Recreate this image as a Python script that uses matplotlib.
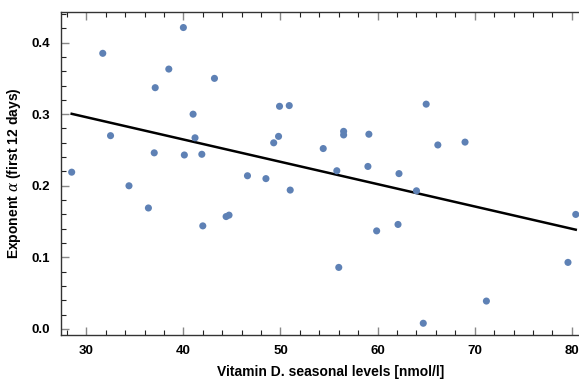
import numpy as np
import matplotlib
matplotlib.use("Agg")
import matplotlib.pyplot as plt
from matplotlib.ticker import MultipleLocator, FormatStrFormatter

# vitamin D levels vs. exponent alpha (first 12 days)
vit_d = [28.5, 31.7, 32.5, 34.4, 37.0, 37.1, 38.5, 40.0, 40.1, 41.0,
         41.2, 41.9, 43.2, 46.6, 48.5, 49.3, 49.8, 49.9, 50.9, 51.0,
         54.4, 55.8, 56.5, 56.5, 59.1, 59.0, 62.2, 65.0, 66.2, 69.0,
         64.0, 36.4, 42.0, 44.4, 44.7, 59.9, 62.1, 56.0, 71.2, 64.7,
         79.6, 80.4]
alpha = [0.219, 0.385, 0.270, 0.200, 0.246, 0.337, 0.363, 0.421, 0.243, 0.300,
         0.267, 0.244, 0.350, 0.214, 0.210, 0.260, 0.269, 0.311, 0.312, 0.194,
         0.252, 0.221, 0.276, 0.271, 0.272, 0.227, 0.217, 0.314, 0.257, 0.261,
         0.193, 0.169, 0.144, 0.157, 0.159, 0.137, 0.146, 0.086, 0.039, 0.008,
         0.093, 0.160]

plt.rcParams['font.family'] = ['Liberation Sans', 'DejaVu Sans']
plt.rcParams['mathtext.fontset'] = 'dejavuserif'

fig = plt.figure(figsize=(5.79, 3.79), dpi=100)
ax = fig.add_axes([61 / 579, 44 / 379, 540 / 579, 323 / 379])

# least squares line over the data range
k, b = np.polyfit(vit_d, alpha, 1)
xs = np.array([min(vit_d), max(vit_d)])
ax.plot(xs, k * xs + b, color='black', lw=1.8, zorder=2)
ax.scatter(vit_d, alpha, s=26, color='#5E81B5', edgecolors='none', zorder=3)

ax.set_xlim(27.4, 83)
ax.set_ylim(-0.0084, 0.4427)
ax.xaxis.set_major_locator(MultipleLocator(10))
ax.xaxis.set_minor_locator(MultipleLocator(2))
ax.yaxis.set_major_locator(MultipleLocator(0.1))
ax.yaxis.set_minor_locator(MultipleLocator(0.02))
ax.yaxis.set_major_formatter(FormatStrFormatter('%.1f'))

for s in ax.spines.values():
    s.set_color('#333333')
    s.set_linewidth(1.0)
ax.tick_params(which='both', direction='in', top=True, right=True)
ax.tick_params(which='major', length=6, width=1.0, color='#888888',
               labelsize=9.5)
ax.tick_params(axis='x', which='major', pad=7)
ax.tick_params(axis='y', which='major', pad=8)
ax.tick_params(which='minor', length=3.5, width=0.8, color='#222222')
for lab in ax.get_xticklabels() + ax.get_yticklabels():
    lab.set_fontweight('bold')

ax.set_xlabel('Vitamin D. seasonal levels [nmol/l]', fontsize=10,
              fontweight='bold', labelpad=6)
ax.set_ylabel(r'Exponent $\alpha$ (first 12 days)', fontsize=10,
              fontweight='bold', labelpad=6)

fig.savefig('out.png', dpi=100)
